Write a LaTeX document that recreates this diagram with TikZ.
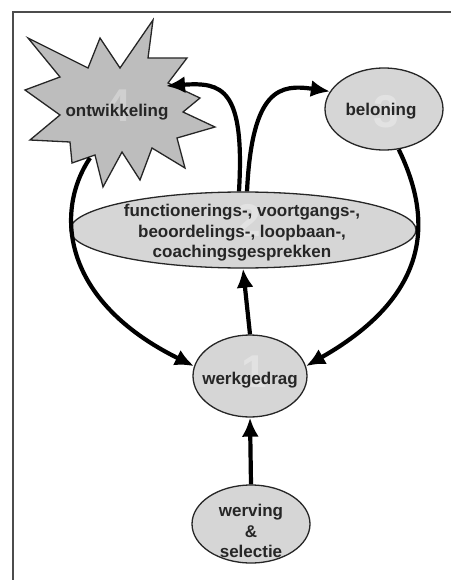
\documentclass[tikz,border=0pt]{standalone}
\usepackage{fontspec}
\setmainfont{Liberation Sans}
\usetikzlibrary{arrows.meta, shapes.geometric}
\usepackage{xcolor}
\definecolor{bubblegray}{gray}{0.84}
\definecolor{stargray}{gray}{0.74}

\begin{document}
\begin{tikzpicture}[x=1pt, y=-1pt,
  bubble/.style={ellipse, draw=black!85, line width=1.3pt, fill=bubblegray, inner sep=0pt},
  lbl/.style={font=\fontsize{17}{20.5}\selectfont\bfseries, text=black!85, align=center},
  num/.style={font=\fontsize{46}{46}\selectfont\bfseries, text=white, opacity=0.3},
  flow/.style={-{Latex[length=19pt, width=17pt]}, line width=4.2pt}
]
\useasboundingbox (0,0) rectangle (451,580);
\draw[line width=1.3pt, black!70] (13,580) -- (13,12) -- (451,12);

% star
\draw[fill=stargray, draw=black!85, line width=1.3pt, line join=miter]
  (28,38) -- (88,68) -- (100,38) -- (120,68) -- (153,20) -- (148,58) -- (187,58)
  -- (168,83) -- (200,98) -- (183,112) -- (215,127) -- (177,138) -- (185,168)
  -- (152,148) -- (140,180) -- (122,152) -- (103,187) -- (95,155) -- (72,163)
  -- (70,142) -- (30,140) -- (60,115) -- (25,90) -- (60,77) -- cycle;
\coordinate (ontwtip) at (166,86);
\coordinate (ontwfoot) at (90,158);

% bubbles
\node[bubble, minimum width=118pt, minimum height=82pt] (belon) at (384,109) {};
\node[bubble, minimum width=346pt, minimum height=76pt] (gesprek) at (243,230) {};
\node[bubble, minimum width=114pt, minimum height=82pt] (werk) at (250,376) {};
\node[bubble, minimum width=118pt, minimum height=78pt] (werving) at (251,524) {};

% faint numbers
\node[num] (n4) at (118,106) {4};
\node[num] (n3) at (386,112) {3};
\node[num] (n2) at (248,220) {2};
\node[num] (n1) at (254,372) {1};

% labels
\node[lbl] (ontw) at (117,112) {ontwikkeling};
\node[lbl] (belontxt) at (381,111) {beloning};
\node[lbl] (gesprektxt) at (242,233) {functionerings-, voortgangs-,\\beoordelings-, loopbaan-,\\coachingsgesprekken};
\node[lbl] (werktxt) at (250,380) {werkgedrag};
\node[lbl] (wervingtxt) at (251,531) {werving\\\&\\selectie};

% connectors
\draw[flow] (werving.north) -- (werk.south);
\draw[flow] (werk.north) -- (gesprek.south);
\draw[flow] ([xshift=-4pt]gesprek.north) .. controls (245,88) and (222,82) .. (ontwtip);
\draw[flow] ([xshift=4pt]gesprek.north) .. controls (252,88) and (280,84) .. (belon.162);
\draw[flow] (ontwfoot) .. controls (55,210) and (60,300) .. (werk.170);
\draw[flow] (belon.290) .. controls (428,210) and (440,290) .. (werk.10);
\end{tikzpicture}
\end{document}
